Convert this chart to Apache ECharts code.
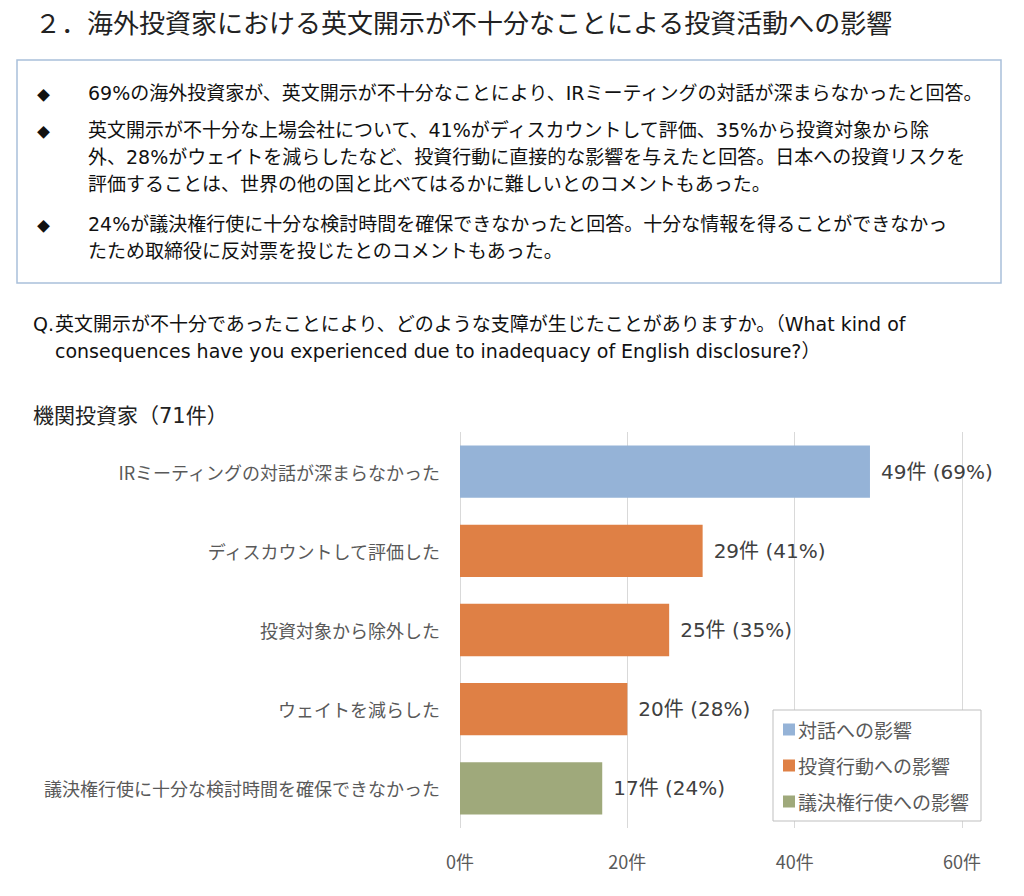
<!DOCTYPE html>
<html><head><meta charset="utf-8">
<script src="https://cdn.jsdelivr.net/npm/echarts@6/dist/echarts.min.js"></script>
<style>html,body{margin:0;padding:0;background:#fff}#c{width:1024px;height:896px}</style>
</head><body><div id="c"></div>
<script>
const titleText = '２．海外投資家における英文開示が不十分なことによる投資活動への影響';
const bulletLines = [
  ['69%の海外投資家が、英文開示が不十分なことにより、IRミーティングの対話が深まらなかったと回答。'],
  ['英文開示が不十分な上場会社について、41%がディスカウントして評価、35%から投資対象から除',
   '外、28%がウェイトを減らしたなど、投資行動に直接的な影響を与えたと回答。日本への投資リスクを',
   '評価することは、世界の他の国と比べてはるかに難しいとのコメントもあった。'],
  ['24%が議決権行使に十分な検討時間を確保できなかったと回答。十分な情報を得ることができなかっ',
   'たため取締役に反対票を投じたとのコメントもあった。']
];
const questionPrefix = 'Q.';
const questionLines = ['英文開示が不十分であったことにより、どのような支障が生じたことがありますか。（What kind of',
  'consequences have you experienced due to inadequacy of English disclosure?）'];
const subTitle = '機関投資家（71件）';

const categories = ['IRミーティングの対話が深まらなかった','ディスカウントして評価した','投資対象から除外した','ウェイトを減らした','議決権行使に十分な検討時間を確保できなかった'];
const counts = [49, 29, 25, 20, 17];
const percents = [69, 41, 35, 28, 24];
const groupOf = [0, 1, 1, 1, 2];
const seriesNames = ['対話への影響', '投資行動への影響', '議決権行使への影響'];
const seriesColors = ['#95B3D7', '#DF8045', '#9FA97B'];
const xTicks = [0, 20, 40, 60];

const FONT = '"Noto Sans CJK JP", "Noto Sans", sans-serif';
const WFONT = '"DejaVu Sans", "Noto Sans CJK JP", sans-serif';
const chart = echarts.init(document.getElementById('c'), null, {renderer: 'svg'});

const graphics = [];
graphics.push({type:'text', left: 35, top: 8, style:{text:titleText, font:'26px ' + FONT, fill:'#222'}});
graphics.push({type:'rect', shape:{x:17, y:60, width:984, height:223}, style:{fill:'none', stroke:'#A9C0DA', lineWidth:1.5}});
const bulletTops = [[83],[120,147,174],[214,241]];
bulletLines.forEach((lines, i) => {
  graphics.push({type:'text', x: 37, y: bulletTops[i][0] + 5, style:{text:'◆', font:'13px ' + FONT, fill:'#111'}});
  lines.forEach((ln, j) => {
    graphics.push({type:'text', x: 88, y: bulletTops[i][j], style:{text:ln, font:'19px ' + WFONT, fill:'#111'}});
  });
});
graphics.push({type:'text', x: 33, y: 314, style:{text:questionPrefix, font:'19px ' + WFONT, fill:'#111'}});
questionLines.forEach((ln, j) => {
  graphics.push({type:'text', x: 55, y: 314 + j * 27, style:{text:ln, font:'19px ' + WFONT, fill:'#111'}});
});
graphics.push({type:'text', x: 33, y: 405, style:{text:subTitle, font:'21px ' + WFONT, fill:'#222'}});

const series = seriesNames.map((name, g) => ({
  name: name,
  type: 'bar',
  stack: 'all',
  barWidth: '66%',
  itemStyle: {color: seriesColors[g]},
  data: counts.map((v, i) => groupOf[i] === g ? v : '-'),
  label: {
    show: true, position: 'right', distance: 11,
    fontSize: 20, color: '#404040', fontFamily: WFONT,
    formatter: p => counts[p.dataIndex] + '件 (' + percents[p.dataIndex] + '%)'
  }
}));

chart.setOption({
  animation: false,
  textStyle: {fontFamily: FONT},
  graphic: graphics,
  grid: {left: 460, right: 62, top: 432, bottom: 68, containLabel: false},
  xAxis: {
    type: 'value', min: xTicks[0], max: xTicks[xTicks.length - 1], interval: 20,
    axisLine: {show: false}, axisTick: {show: false},
    splitLine: {lineStyle: {color: '#D9D9D9', width: 1}},
    axisLabel: {formatter: '{value}件', fontSize: 18, color: '#595959', margin: 24}
  },
  yAxis: {
    type: 'category', data: categories, inverse: true,
    axisLine: {show: false}, axisTick: {show: false},
    axisLabel: {fontSize: 18, color: '#595959', margin: 20}
  },
  legend: {
    orient: 'vertical', left: 773, top: 710,
    data: seriesNames,
    backgroundColor: '#fff', borderColor: '#BFBFBF', borderWidth: 1,
    padding: [10, 12, 10, 10], itemGap: 17,
    itemWidth: 12, itemHeight: 12, icon: 'rect',
    textStyle: {fontSize: 19, color: '#595959', padding: [0,0,0,-2]}
  },
  series: series
});
</script></body></html>
